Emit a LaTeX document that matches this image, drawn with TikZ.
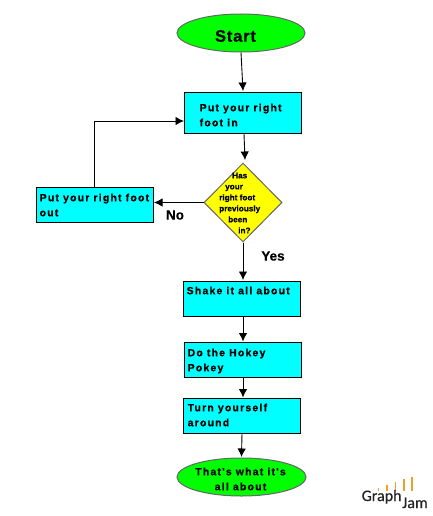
\documentclass[tikz,border=0pt]{standalone}
\usepackage{fontspec}
\setmainfont{Liberation Sans}
\newfontfamily\spaced[LetterSpace=12,FakeBold=0.6]{Liberation Sans Bold}
\newfontfamily\heavy[FakeBold=0.4]{Liberation Sans Bold}
\newfontfamily\startfont[LetterSpace=5,FakeBold=0.6]{Liberation Sans Bold}
\newfontfamily\logofont[FakeBold=0.5]{Carlito}
\usetikzlibrary{shapes.geometric,arrows.meta}
\definecolor{boxc}{RGB}{0,255,255}
\definecolor{endc}{RGB}{0,255,0}
\definecolor{decc}{RGB}{255,255,0}
\definecolor{barc}{RGB}{240,160,40}
\definecolor{logoc}{RGB}{35,35,35}
\tikzset{
  x=1pt,y=-1pt,
  flowbox/.style={draw=black,line width=0.8pt,fill=boxc,rectangle,minimum width=117pt,inner sep=0pt},
  term/.style={draw=black!60,line width=1pt,fill=endc,ellipse,inner sep=0pt,minimum width=128pt,minimum height=38pt},
  decis/.style={draw=black!60,line width=1pt,fill=decc,diamond,inner sep=0pt,minimum width=78pt,minimum height=79pt},
  lab/.style={font=\spaced\fontsize{10.4}{15}\selectfont,align=left,inner sep=0pt,anchor=north west},
  ans/.style={font=\heavy\fontsize{13.5}{15}\selectfont,inner sep=0pt},
  flow/.style={draw=black,line width=0.9pt,-{Latex[length=8.5pt,width=8.5pt]}},
  bar/.style={draw=barc,line width=1.3pt},
  logot/.style={inner sep=0pt,anchor=base west,font=\logofont\fontsize{16}{16}\selectfont,text=logoc}
}
\begin{document}
\begin{tikzpicture}
\useasboundingbox (0,0) rectangle (432,516);
\node[term] (start) at (241,33) {};
\node[font=\startfont\fontsize{16.5}{18}\selectfont,inner sep=0pt] (tstart) at (235.5,36) {Start};
\node[flowbox,minimum height=41pt] (in) at (243,112.5) {};
\node[lab] (tin) at (199.5,103.5) {Put your right\\foot in};
\node[decis] (dec) at (243,202.5) {};
\node[font=\heavy\fontsize{8.2}{11}\selectfont,align=left,inner sep=0pt,anchor=north west] (tdec) at (219,172.5) {\hspace*{13pt}Has\\\hspace*{6pt}your\\right foot\\previously\\\hspace*{9pt}been\\\hspace*{19pt}in?};
\node[flowbox,minimum height=35pt] (out) at (95,204.5) {};
\node[lab] (tout) at (39.5,193.5) {Put your right foot\\out};
\node[flowbox,minimum height=35pt] (shake) at (241.5,298.5) {};
\node[lab] (tshake) at (186.5,286.5) {Shake it all about};
\node[flowbox,minimum height=35pt] (hokey) at (242.5,359.5) {};
\node[lab] (thokey) at (187.5,348.5) {Do the Hokey\\Pokey};
\node[flowbox,minimum height=35pt] (turn) at (241.5,415.5) {};
\node[lab] (tturn) at (187.5,403.5) {Turn yourself\\around};
\node[term,minimum width=129pt] (end) at (241.5,477) {};
\node[font=\spaced\fontsize{10.4}{15}\selectfont,align=center,inner sep=0pt] (tend) at (240.5,479) {That's what it's\\all about};
\node[ans] (no) at (175,215) {No};
\node[ans] (yes) at (273,256) {Yes};
\coordinate (c1) at (94,121);
\coordinate (c2) at (94,187);
\coordinate (c3) at (184,121);
\coordinate (c4) at (154,202.5);
\draw[flow] (start.south) -- (243,91);
\draw[flow] (244,134) -- (245,160);
\draw[flow] (dec.west) -- (c4);
\draw[flow] (c2) -- (c1) -- (c3);
\draw[flow] (dec.south) -- (243,280);
\draw[flow] (243,316) -- (243,341.5);
\draw[flow] (243,377) -- (243,397.5);
\draw[flow] (242,433) -- (241.5,457);
% logo
\foreach \x/\t in {378.5/488,387/485,395.5/482,404/479,412/477}{\draw[bar] (\x,\t) -- (\x,491);}
\node[logot] (logo) at (361.5,501) {Graph};
\node[logot] (logob) at (402,508) {Jam};
\end{tikzpicture}
\end{document}
